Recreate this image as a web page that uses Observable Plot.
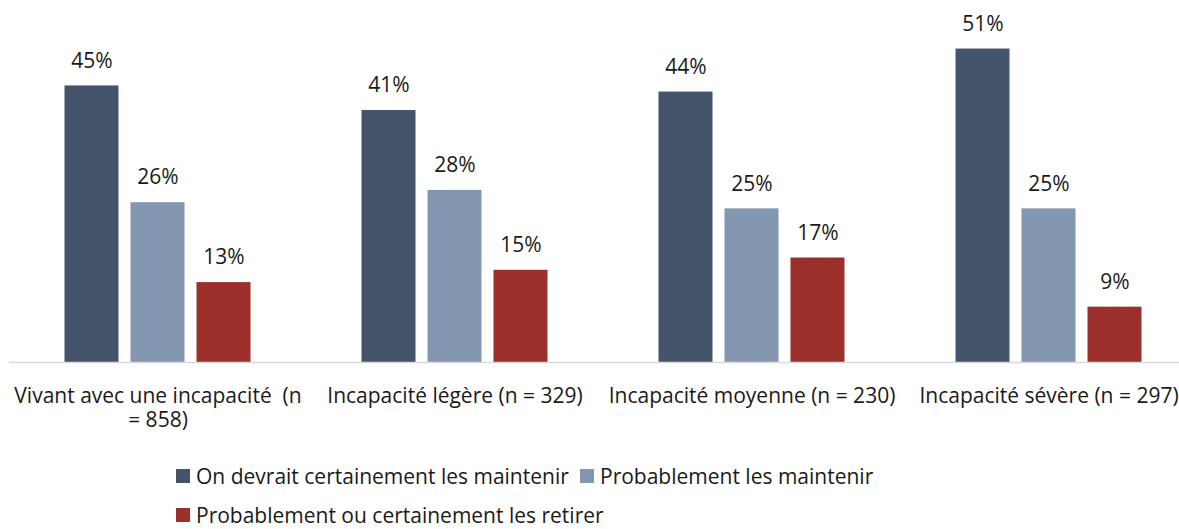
<!DOCTYPE html>
<html>
<head>
<meta charset="utf-8">
<script src="https://cdn.jsdelivr.net/npm/d3@7"></script>
<script src="https://cdn.jsdelivr.net/npm/@observablehq/plot@0.6"></script>
<style>
  html, body { margin: 0; padding: 0; background: #fff; overflow: hidden; }
  body { font-family: "Open Sans", Lato, sans-serif; width: 1179px; }
  #chart svg { display: block; overflow: visible; }
  .legend { position: relative; height: 89px; font-size: 21px; color: #1a1a1a; }
  .legend .item { position: absolute; display: flex; align-items: center; white-space: nowrap; line-height: 24px; }
  .legend .sw { width: 14px; height: 14px; margin-right: 6px; }
</style>
</head>
<body>
<div id="chart"></div>
<div class="legend" id="legend"></div>
<script>
const groups = ["Vivant avec une incapacité", "Incapacité légère", "Incapacité moyenne", "Incapacité sévère"];
const groupLabels = ["Vivant avec une incapacité  (n\n= 858)", "Incapacité légère (n = 329)", "Incapacité moyenne (n = 230)", "Incapacité sévère (n = 297)"];
const series = ["On devrait certainement les maintenir", "Probablement les maintenir", "Probablement ou certainement les retirer"];
const colors = ["#44546A", "#8497B0", "#9A2F2B"];
const certainementMaintenir = [45, 41, 44, 51];
const probablementMaintenir = [26, 28, 25, 25];
const retirer = [13, 15, 17, 9];

const values = [certainementMaintenir, probablementMaintenir, retirer];
const data = [];
groups.forEach((g, i) => series.forEach((s, j) => data.push({group: g, series: s, value: values[j][i]})));
const labelOf = new Map(groups.map((g, i) => [g, groupLabels[i]]));

const FS = 21;
const chart = Plot.plot({
  width: 1179,
  height: 440,
  marginLeft: 8.5,
  marginRight: -17.5,
  marginTop: 0,
  marginBottom: 78,
  style: {fontFamily: "'Open Sans', Lato, sans-serif", fontSize: FS + "px", color: "#1a1a1a"},
  fx: {domain: groups, padding: 0, axis: null},
  x: {domain: series, paddingInner: 0.18, paddingOuter: 0.84, axis: null},
  y: {domain: [0, 58.9], axis: null},
  color: {domain: series, range: colors},
  marks: [
    Plot.barY(data, {fx: "group", x: "series", y: "value", fill: "series"}),
    Plot.ruleY([0], {stroke: "#d9d9d9", strokeWidth: 1.5}),
    Plot.text(data, {fx: "group", x: "series", y: "value", text: d => d.value + "%", dy: -25, fill: "#1a1a1a", fontSize: FS}),
    Plot.text(groups, {fx: d => d, text: d => labelOf.get(d), frameAnchor: "bottom", lineAnchor: "top", dy: 23, lineHeight: 24 / FS, fill: "#1a1a1a", fontSize: FS})
  ]
});
document.getElementById("chart").appendChild(chart);

const legend = document.getElementById("legend");
const pos = [[176, 36], [580, 36], [176, 75]];
series.forEach((s, i) => {
  const it = document.createElement("div");
  it.className = "item";
  it.style.left = pos[i][0] + "px";
  it.style.top = (pos[i][1] - 12) + "px";
  it.innerHTML = `<span class="sw" style="background:${colors[i]}"></span><span>${s}</span>`;
  legend.appendChild(it);
});
</script>
</body>
</html>
